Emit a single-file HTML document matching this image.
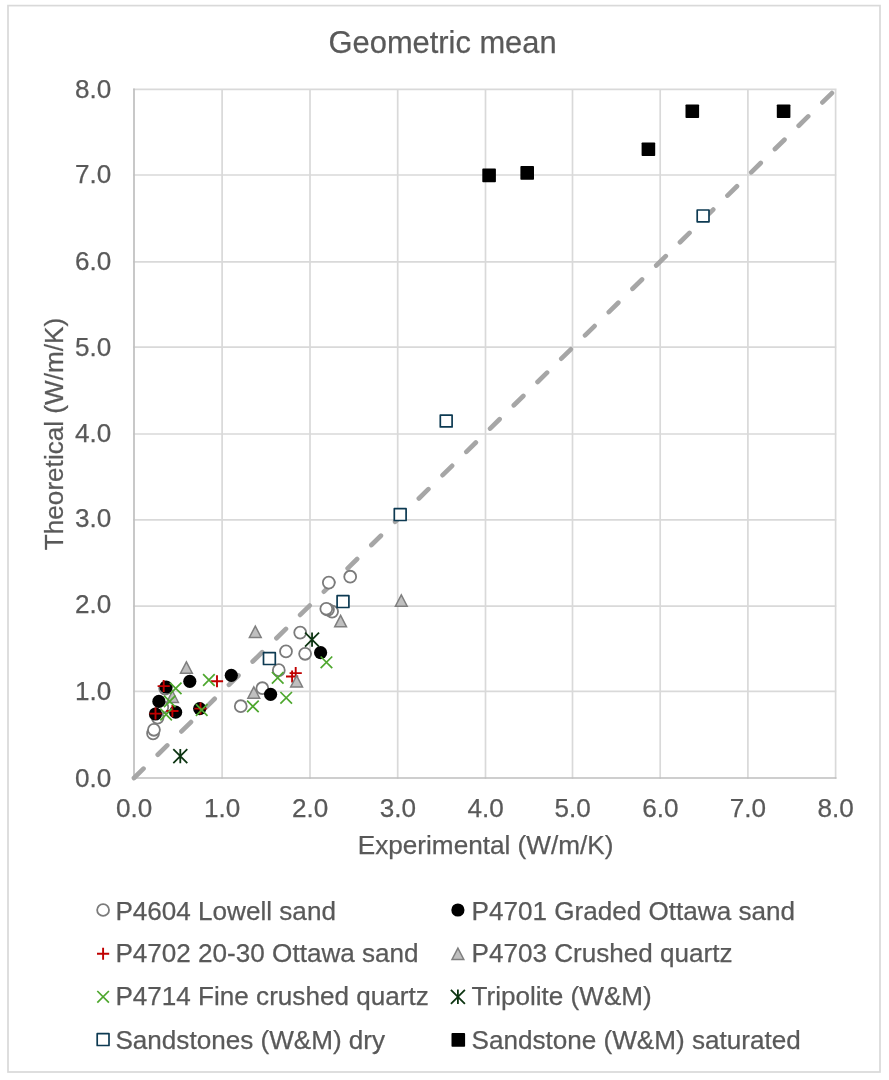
<!DOCTYPE html>
<html lang="en"><head><meta charset="utf-8"><title>Geometric mean</title>
<style>html,body{margin:0;padding:0;background:#fff}svg{display:block}text{font-family:"Liberation Sans",Arial,sans-serif;fill:#595959;stroke:#595959;stroke-width:.25px}</style></head><body>
<svg width="889" height="1080" viewBox="0 0 889 1080">
<rect width="889" height="1080" fill="#fff"/>
<rect x="8" y="5.6" width="872" height="1066.4" fill="none" stroke="#d9d9d9" stroke-width="1.7"/>
<path d="M222.1 89.4V778.0M134.0 691.4H835.7M310.0 89.4V778.0M134.0 606.1H835.7M397.7 89.4V778.0M134.0 519.8H835.7M485.5 89.4V778.0M134.0 434.0H835.7M572.5 89.4V778.0M134.0 347.2H835.7M660.2 89.4V778.0M134.0 261.8H835.7M747.9 89.4V778.0M134.0 175.0H835.7M835.6 89.4V778.0M134.0 89.4H835.7" stroke="#d9d9d9" stroke-width="1.7" fill="none" stroke-linecap="square"/>
<path d="M134.0 88.60000000000001V778.0H836.5" stroke="#bfbfbf" stroke-width="1.7" fill="none" stroke-linecap="butt" stroke-linejoin="miter"/>
<path d="M134.0 778.0L835.7 89.4" stroke="#a6a6a6" stroke-width="4.7" stroke-linecap="round" stroke-dasharray="13.3 19.96" fill="none"/>
<text x="442.6" y="52.9" font-size="30.85" text-anchor="middle">Geometric mean</text>
<text x="111.3" y="787.0" font-size="26.1" text-anchor="end">0.0</text>
<text x="111.3" y="699.9" font-size="26.1" text-anchor="end">1.0</text>
<text x="111.3" y="613.1" font-size="26.1" text-anchor="end">2.0</text>
<text x="111.3" y="527.1" font-size="26.1" text-anchor="end">3.0</text>
<text x="111.3" y="442.3" font-size="26.1" text-anchor="end">4.0</text>
<text x="111.3" y="356.1" font-size="26.1" text-anchor="end">5.0</text>
<text x="111.3" y="269.55" font-size="26.1" text-anchor="end">6.0</text>
<text x="111.3" y="182.8" font-size="26.1" text-anchor="end">7.0</text>
<text x="111.3" y="97.5" font-size="26.1" text-anchor="end">8.0</text>
<text x="134.10" y="816.9" font-size="26.1" text-anchor="middle">0.0</text>
<text x="222.20" y="816.9" font-size="26.1" text-anchor="middle">1.0</text>
<text x="310.10" y="816.9" font-size="26.1" text-anchor="middle">2.0</text>
<text x="397.80" y="816.9" font-size="26.1" text-anchor="middle">3.0</text>
<text x="485.60" y="816.9" font-size="26.1" text-anchor="middle">4.0</text>
<text x="572.60" y="816.9" font-size="26.1" text-anchor="middle">5.0</text>
<text x="660.30" y="816.9" font-size="26.1" text-anchor="middle">6.0</text>
<text x="748.00" y="816.9" font-size="26.1" text-anchor="middle">7.0</text>
<text x="835.70" y="816.9" font-size="26.1" text-anchor="middle">8.0</text>
<text x="485.6" y="854.1" font-size="26.15" text-anchor="middle">Experimental (W/m/K)</text>
<text transform="translate(62.8 434) rotate(-90)" font-size="26.15" text-anchor="middle">Theoretical (W/m/K)</text>
<circle cx="153.05" cy="733.4" r="5.95" fill="#fff" stroke="#7b7b7b" stroke-width="1.8"/>
<circle cx="153.95" cy="729.8" r="5.95" fill="#fff" stroke="#7b7b7b" stroke-width="1.8"/>
<circle cx="157.6" cy="717.6" r="5.95" fill="#fff" stroke="#7b7b7b" stroke-width="1.8"/>
<circle cx="162.3" cy="707.3" r="5.95" fill="#fff" stroke="#7b7b7b" stroke-width="1.8"/>
<circle cx="165.2" cy="688.6" r="5.95" fill="#fff" stroke="#7b7b7b" stroke-width="1.8"/>
<circle cx="240.75" cy="706.2" r="5.95" fill="#fff" stroke="#7b7b7b" stroke-width="1.8"/>
<circle cx="262.35" cy="688.2" r="5.95" fill="#fff" stroke="#7b7b7b" stroke-width="1.8"/>
<circle cx="278.8" cy="670.15" r="5.95" fill="#fff" stroke="#7b7b7b" stroke-width="1.8"/>
<circle cx="286.0" cy="651.4" r="5.95" fill="#fff" stroke="#7b7b7b" stroke-width="1.8"/>
<circle cx="300.2" cy="632.6" r="5.95" fill="#fff" stroke="#7b7b7b" stroke-width="1.8"/>
<circle cx="305.1" cy="653.8" r="5.95" fill="#fff" stroke="#7b7b7b" stroke-width="1.8"/>
<circle cx="328.8" cy="582.6" r="5.95" fill="#fff" stroke="#7b7b7b" stroke-width="1.8"/>
<circle cx="350.2" cy="576.7" r="5.95" fill="#fff" stroke="#7b7b7b" stroke-width="1.8"/>
<circle cx="332.1" cy="611.6" r="5.95" fill="#fff" stroke="#7b7b7b" stroke-width="1.8"/>
<circle cx="328.0" cy="609.6" r="5.95" fill="#fff" stroke="#7b7b7b" stroke-width="1.8"/>
<circle cx="326.3" cy="608.8" r="5.95" fill="#fff" stroke="#7b7b7b" stroke-width="1.8"/>
<circle cx="166.1" cy="687.0" r="6.6" fill="#000"/>
<circle cx="158.9" cy="701.4" r="6.6" fill="#000"/>
<circle cx="155.5" cy="714.0" r="6.6" fill="#000"/>
<circle cx="175.6" cy="712.2" r="6.6" fill="#000"/>
<circle cx="189.8" cy="681.3" r="6.6" fill="#000"/>
<circle cx="199.7" cy="708.6" r="6.6" fill="#000"/>
<circle cx="231.3" cy="675.3" r="6.6" fill="#000"/>
<circle cx="270.6" cy="694.3" r="6.6" fill="#000"/>
<circle cx="320.6" cy="652.65" r="6.6" fill="#000"/>
<path d="M157.60 686.1H169.80M163.7 680.10V692.10" stroke="#c00000" stroke-width="1.9" fill="none"/>
<path d="M149.40 713.6H161.60M155.5 707.60V719.60" stroke="#c00000" stroke-width="1.9" fill="none"/>
<path d="M166.30 711.0H178.50M172.4 705.00V717.00" stroke="#c00000" stroke-width="1.9" fill="none"/>
<path d="M194.40 708.6H206.60M200.5 702.60V714.60" stroke="#c00000" stroke-width="1.9" fill="none"/>
<path d="M210.90 681.2H223.10M217.0 675.20V687.20" stroke="#c00000" stroke-width="1.9" fill="none"/>
<path d="M286.00 676.5H298.20M292.1 670.50V682.50" stroke="#c00000" stroke-width="1.9" fill="none"/>
<path d="M289.60 673.1H301.80M295.7 667.10V679.10" stroke="#c00000" stroke-width="1.9" fill="none"/>
<path d="M186.4 661.80L192.30 673.20H180.50Z" fill="#bfbfbf" stroke="#7f7f7f" stroke-width="1.5" stroke-linejoin="miter"/>
<path d="M172.5 691.00L178.40 702.40H166.60Z" fill="#bfbfbf" stroke="#7f7f7f" stroke-width="1.5" stroke-linejoin="miter"/>
<path d="M253.8 686.80L259.70 698.20H247.90Z" fill="#bfbfbf" stroke="#7f7f7f" stroke-width="1.5" stroke-linejoin="miter"/>
<path d="M255.3 626.10L261.20 637.50H249.40Z" fill="#bfbfbf" stroke="#7f7f7f" stroke-width="1.5" stroke-linejoin="miter"/>
<path d="M296.6 675.60L302.50 687.00H290.70Z" fill="#bfbfbf" stroke="#7f7f7f" stroke-width="1.5" stroke-linejoin="miter"/>
<path d="M340.6 615.40L346.50 626.80H334.70Z" fill="#bfbfbf" stroke="#7f7f7f" stroke-width="1.5" stroke-linejoin="miter"/>
<path d="M401.3 594.80L407.20 606.20H395.40Z" fill="#bfbfbf" stroke="#7f7f7f" stroke-width="1.5" stroke-linejoin="miter"/>
<path d="M169.90 682.60L181.50 694.20M169.90 694.20L181.50 682.60" stroke="#4ea72e" stroke-width="1.7" fill="none"/>
<path d="M163.90 695.60L175.50 707.20M163.90 707.20L175.50 695.60" stroke="#4ea72e" stroke-width="1.7" fill="none"/>
<path d="M160.30 708.70L171.90 720.30M160.30 720.30L171.90 708.70" stroke="#4ea72e" stroke-width="1.7" fill="none"/>
<path d="M195.90 704.20L207.50 715.80M195.90 715.80L207.50 704.20" stroke="#4ea72e" stroke-width="1.7" fill="none"/>
<path d="M203.10 674.20L214.70 685.80M203.10 685.80L214.70 674.20" stroke="#4ea72e" stroke-width="1.7" fill="none"/>
<path d="M247.10 700.60L258.70 712.20M247.10 712.20L258.70 700.60" stroke="#4ea72e" stroke-width="1.7" fill="none"/>
<path d="M271.90 672.00L283.50 683.60M271.90 683.60L283.50 672.00" stroke="#4ea72e" stroke-width="1.7" fill="none"/>
<path d="M280.40 692.00L292.00 703.60M280.40 703.60L292.00 692.00" stroke="#4ea72e" stroke-width="1.7" fill="none"/>
<path d="M320.65 656.50L332.25 668.10M320.65 668.10L332.25 656.50" stroke="#4ea72e" stroke-width="1.7" fill="none"/>
<path d="M173.30 749.10L187.30 763.10M173.30 763.10L187.30 749.10M180.3 748.90V763.30" stroke="#0d3512" stroke-width="1.8" fill="none"/>
<path d="M305.05 632.60L319.05 646.60M305.05 646.60L319.05 632.60M312.05 632.40V646.80" stroke="#0d3512" stroke-width="1.8" fill="none"/>
<rect x="263.50" y="652.70" width="11.8" height="11.8" fill="#fff" stroke="#0d3a52" stroke-width="1.7" stroke-linejoin="round"/>
<rect x="337.10" y="595.70" width="11.8" height="11.8" fill="#fff" stroke="#0d3a52" stroke-width="1.7" stroke-linejoin="round"/>
<rect x="394.30" y="508.70" width="11.8" height="11.8" fill="#fff" stroke="#0d3a52" stroke-width="1.7" stroke-linejoin="round"/>
<rect x="440.30" y="415.10" width="11.8" height="11.8" fill="#fff" stroke="#0d3a52" stroke-width="1.7" stroke-linejoin="round"/>
<rect x="697.20" y="210.00" width="11.8" height="11.8" fill="#fff" stroke="#0d3a52" stroke-width="1.7" stroke-linejoin="round"/>
<rect x="482.30" y="168.60" width="13.6" height="13.6" rx="0.8" fill="#000"/>
<rect x="520.40" y="166.10" width="13.6" height="13.6" rx="0.8" fill="#000"/>
<rect x="641.60" y="142.50" width="13.6" height="13.6" rx="0.8" fill="#000"/>
<rect x="685.50" y="104.50" width="13.6" height="13.6" rx="0.8" fill="#000"/>
<rect x="776.80" y="104.50" width="13.6" height="13.6" rx="0.8" fill="#000"/>
<circle cx="103.1" cy="910.0" r="5.95" fill="#fff" stroke="#7b7b7b" stroke-width="1.8"/>
<text x="115.4" y="919.8" font-size="26.1">P4604 Lowell sand</text>
<circle cx="457.9" cy="910.0" r="6.6" fill="#000"/>
<text x="471.5" y="919.8" font-size="26.1">P4701 Graded Ottawa sand</text>
<path d="M97.00 953.8H109.20M103.1 947.80V959.80" stroke="#c00000" stroke-width="1.9" fill="none"/>
<text x="115.4" y="961.6" font-size="26.1">P4702 20-30 Ottawa sand</text>
<path d="M457.9 948.10L463.80 959.50H452.00Z" fill="#bfbfbf" stroke="#7f7f7f" stroke-width="1.5" stroke-linejoin="miter"/>
<text x="471.5" y="961.6" font-size="26.1">P4703 Crushed quartz</text>
<path d="M97.30 991.00L108.90 1002.60M97.30 1002.60L108.90 991.00" stroke="#4ea72e" stroke-width="1.7" fill="none"/>
<text x="115.4" y="1005.4" font-size="26.1">P4714 Fine crushed quartz</text>
<path d="M450.90 989.80L464.90 1003.80M450.90 1003.80L464.90 989.80M457.9 989.60V1004.00" stroke="#0d3512" stroke-width="1.8" fill="none"/>
<text x="471.5" y="1005.4" font-size="26.1">Tripolite (W&amp;M)</text>
<rect x="97.20" y="1033.70" width="11.8" height="11.8" fill="#fff" stroke="#0d3a52" stroke-width="1.7" stroke-linejoin="round"/>
<text x="115.4" y="1048.6" font-size="26.1">Sandstones (W&amp;M) dry</text>
<rect x="451.50" y="1033.10" width="13.6" height="13.6" rx="0.8" fill="#000"/>
<text x="471.5" y="1048.6" font-size="26.1">Sandstone (W&amp;M) saturated</text>
</svg></body></html>
